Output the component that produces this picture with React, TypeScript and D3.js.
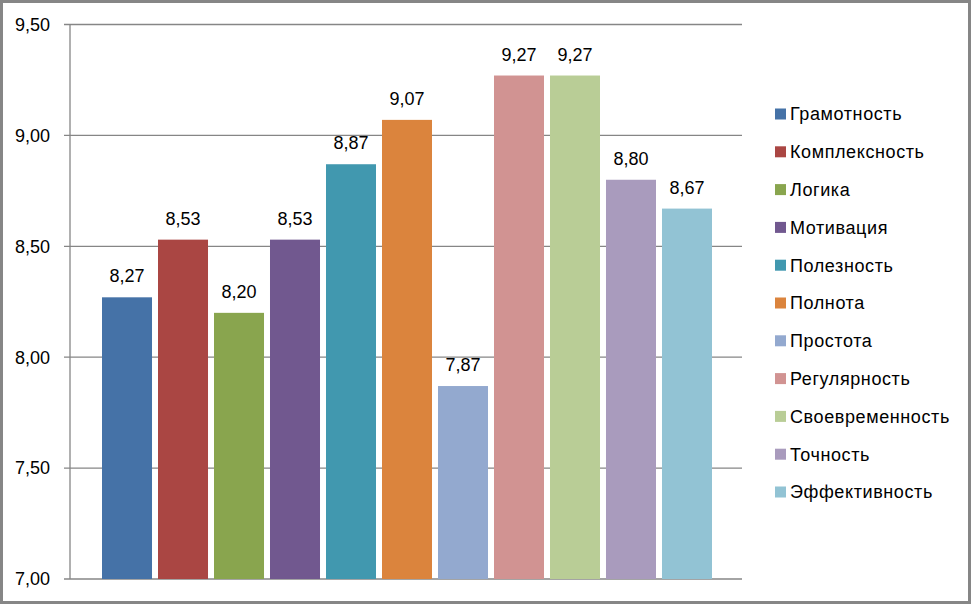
import React from 'react';
import { scaleLinear, scaleBand } from 'd3';

const names = [
  'Грамотность', 'Комплексность', 'Логика', 'Мотивация', 'Полезность', 'Полнота',
  'Простота', 'Регулярность', 'Своевременность', 'Точность', 'Эффективность',
];
const scores = [8.27, 8.53, 8.2, 8.53, 8.87, 9.07, 7.87, 9.27, 9.27, 8.8, 8.67];
const colors = [
  '#4572a7', '#aa4643', '#89a54e', '#71588f', '#4198af', '#db843d',
  '#93a9cf', '#d19392', '#b9cd96', '#a99bbd', '#92c3d4',
];
const ticks = [7, 7.5, 8, 8.5, 9, 9.5];

const W = 971;
const H = 604;
const font = '"Liberation Sans", Arial, sans-serif';
const fmt = (v: number) => v.toFixed(2).replace('.', ',');

const App: React.FC = () => {
  const left = 70, right = 742, top = 24.5, bottom = 579;

  const y = scaleLinear().domain([7, 9.5]).range([bottom, top]);
  const x = scaleBand()
    .domain(names)
    .range([102, 712])
    .paddingInner(0.107)
    .paddingOuter(0);

  return (
    <svg width={W} height={H} style={{ position: 'absolute', left: 0, top: 0 }}
      fontFamily={font}>
      <rect x={1.5} y={1.5} width={W - 3} height={H - 3} fill="#fff" stroke="#868686" strokeWidth={3} />

      {ticks.map(t => (
        <g key={t}>
          <line x1={64} x2={right} y1={y(t)} y2={y(t)} stroke="#868686" strokeWidth={1.3} />
          <text x={50} y={y(t)} dy="0.35em" textAnchor="end" fontSize={18} fill="#000">{fmt(t)}</text>
        </g>
      ))}
      <line x1={left} x2={left} y1={top} y2={bottom} stroke="#868686" strokeWidth={1.3} />

      {names.map((n, i) => (
        <g key={n}>
          <rect x={x(n)!} y={y(scores[i])} width={x.bandwidth()} height={bottom - y(scores[i])} fill={colors[i]} />
          <text x={x(n)! + x.bandwidth() / 2} y={y(scores[i]) - 15} textAnchor="middle" fontSize={18} fill="#000">
            {fmt(scores[i])}
          </text>
        </g>
      ))}

      {names.map((n, i) => {
        const cy = 114 + i * 37.8;
        return (
          <g key={'l' + n}>
            <rect x={775} y={cy - 5.5} width={11} height={11} fill={colors[i]} />
            <text x={790} y={cy} dy="0.35em" fontSize={18} letterSpacing={0.6} fill="#000">{n}</text>
          </g>
        );
      })}
    </svg>
  );
};

export default App;
